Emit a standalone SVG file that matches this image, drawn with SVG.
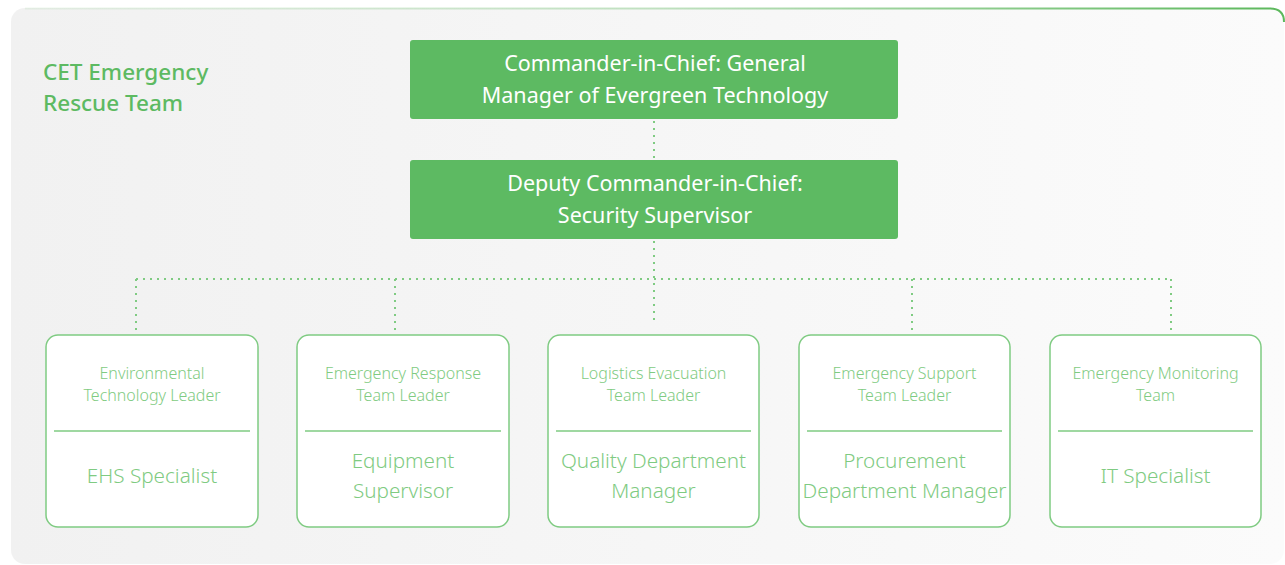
<svg xmlns="http://www.w3.org/2000/svg" width="1285" height="565" viewBox="0 0 1285 565">
  <defs>
    <linearGradient id="bg" x1="0" y1="0" x2="1" y2="0">
      <stop offset="0" stop-color="#f1f1f1"/>
      <stop offset="1" stop-color="#fbfbfb"/>
    </linearGradient>
    <linearGradient id="edge" x1="0" y1="0" x2="1" y2="0">
      <stop offset="0" stop-color="#5cb85c" stop-opacity="0.1"/>
      <stop offset="0.5" stop-color="#5cb85c" stop-opacity="0.35"/>
      <stop offset="1" stop-color="#5cb85c" stop-opacity="1"/>
    </linearGradient>
    <style>
      .head { fill: #5dba62; }
      .headtxt { font-family: "Noto Sans", "Liberation Sans", sans-serif; font-size: 21.5px; fill: #ffffff; text-anchor: middle; }
      .card { fill: #ffffff; stroke: #7fcb82; stroke-width: 1.5; }
      .div { stroke: #7fcb82; stroke-width: 1.5; }
      .role { font-family: "Noto Sans", "Liberation Sans", sans-serif; font-size: 16px; font-weight: 300; fill: #7fcb82; text-anchor: middle; }
      .name { font-family: "Noto Sans", "Liberation Sans", sans-serif; font-size: 20.7px; font-weight: 300; fill: #7fcb82; text-anchor: middle; }
      .conn { fill: none; stroke: #7fcb82; stroke-width: 2; stroke-dasharray: 2 5; }
      .title { font-family: "Noto Sans", "Liberation Sans", sans-serif; font-size: 22.5px; font-weight: 500; fill: #5dba62; }
    </style>
  </defs>

  <g id="panel">
    <rect x="11" y="8" width="1273" height="556" rx="14" fill="url(#bg)"/>
    <path d="M25 8.5 H1270 Q1284 8.5 1284 22" fill="none" stroke="url(#edge)" stroke-width="2"/>
  </g>

  <g id="title">
    <text class="title" x="43" y="80">CET Emergency</text>
    <text class="title" x="43" y="111">Rescue Team</text>
  </g>

  <g id="connectors">
    <path class="conn" d="M654 121 V160"/>
    <path class="conn" d="M654 241 V322"/>
    <path class="conn" d="M136 279 H1171"/>
    <path class="conn" d="M136 279 V333"/>
    <path class="conn" d="M395 279 V333"/>
    <path class="conn" d="M912 279 V333"/>
    <path class="conn" d="M1171 279 V333"/>
  </g>

  <g id="commander">
    <rect class="head" x="410" y="40" width="488" height="79" rx="3"/>
    <text class="headtxt" x="655" y="71">Commander-in-Chief: General</text>
    <text class="headtxt" x="655" y="103">Manager of Evergreen Technology</text>
  </g>

  <g id="deputy">
    <rect class="head" x="410" y="160" width="488" height="79" rx="3"/>
    <text class="headtxt" x="655" y="191">Deputy Commander-in-Chief:</text>
    <text class="headtxt" x="655" y="223">Security Supervisor</text>
  </g>

  <g id="env-leader">
    <rect class="card" x="46" y="335" width="212" height="192" rx="12"/>
    <text class="role" x="152" y="379">Environmental</text>
    <text class="role" x="152" y="401">Technology Leader</text>
    <line class="div" x1="54" y1="431" x2="250" y2="431"/>
    <text class="name" x="152" y="483">EHS Specialist</text>
  </g>

  <g id="response-leader">
    <rect class="card" x="297" y="335" width="212" height="192" rx="12"/>
    <text class="role" x="403" y="379">Emergency Response</text>
    <text class="role" x="403" y="401">Team Leader</text>
    <line class="div" x1="305" y1="431" x2="501" y2="431"/>
    <text class="name" x="403" y="468">Equipment</text>
    <text class="name" x="403" y="498">Supervisor</text>
  </g>

  <g id="logistics-leader">
    <rect class="card" x="548" y="335" width="211" height="192" rx="12"/>
    <text class="role" x="653.5" y="379">Logistics Evacuation</text>
    <text class="role" x="653.5" y="401">Team Leader</text>
    <line class="div" x1="556" y1="431" x2="751" y2="431"/>
    <text class="name" x="653.5" y="468">Quality Department</text>
    <text class="name" x="653.5" y="498">Manager</text>
  </g>

  <g id="support-leader">
    <rect class="card" x="799" y="335" width="211" height="192" rx="12"/>
    <text class="role" x="904.5" y="379">Emergency Support</text>
    <text class="role" x="904.5" y="401">Team Leader</text>
    <line class="div" x1="807" y1="431" x2="1002" y2="431"/>
    <text class="name" x="904.5" y="468">Procurement</text>
    <text class="name" x="904.5" y="498">Department Manager</text>
  </g>

  <g id="monitoring-team">
    <rect class="card" x="1050" y="335" width="211" height="192" rx="12"/>
    <text class="role" x="1155.5" y="379">Emergency Monitoring</text>
    <text class="role" x="1155.5" y="401">Team</text>
    <line class="div" x1="1058" y1="431" x2="1253" y2="431"/>
    <text class="name" x="1155.5" y="483">IT Specialist</text>
  </g>
</svg>
